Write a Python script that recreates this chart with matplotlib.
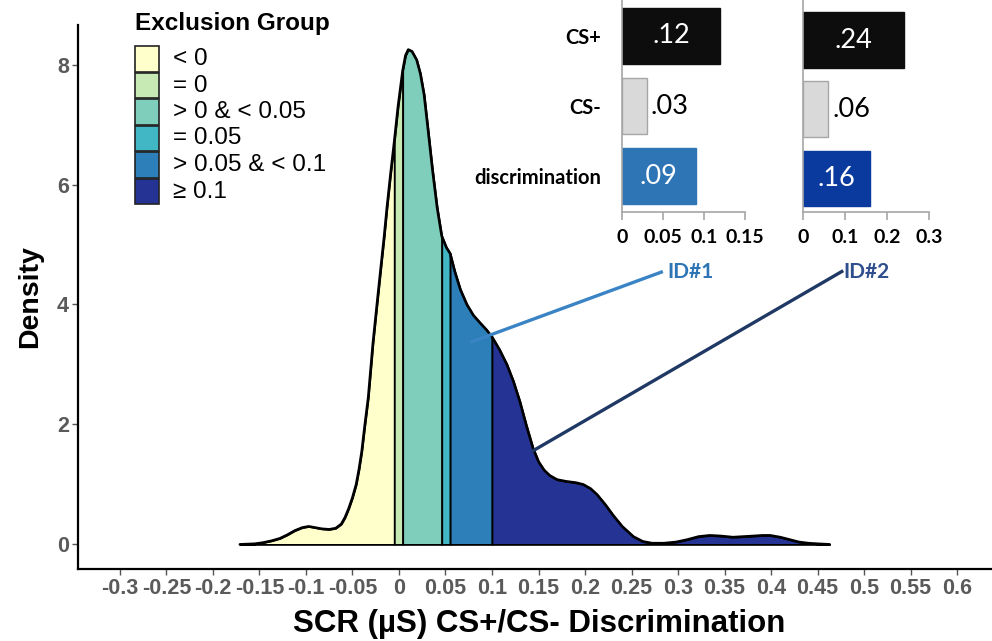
import numpy as np
import matplotlib.pyplot as plt
from matplotlib.patches import Rectangle
from matplotlib.transforms import Affine2D

plt.rcParams['font.family'] = 'Liberation Sans'

# kernel density of the CS+/CS- discrimination score
dens_x = [-0.171, -0.155, -0.146, -0.137, -0.128, -0.120, -0.112, -0.104, -0.097, -0.090,
          -0.083, -0.075, -0.068, -0.062, -0.058, -0.054, -0.050, -0.046, -0.043, -0.040,
          -0.037, -0.033, -0.028, -0.024, -0.020, -0.016, -0.013, -0.009, -0.005, -0.001,
          0.004, 0.007, 0.010, 0.014, 0.019, 0.023, 0.027, 0.031, 0.036, 0.041,
          0.046, 0.051, 0.055, 0.060, 0.066, 0.073, 0.080, 0.088, 0.094, 0.100,
          0.108, 0.116, 0.123, 0.130, 0.137, 0.144, 0.150, 0.156, 0.162, 0.170,
          0.180, 0.190, 0.198, 0.206, 0.213, 0.222, 0.230, 0.240, 0.252, 0.262,
          0.272, 0.285, 0.298, 0.310, 0.322, 0.334, 0.346, 0.359, 0.370, 0.381,
          0.391, 0.399, 0.410, 0.420, 0.430, 0.440, 0.450, 0.463]
dens_y = [0.00, 0.01, 0.03, 0.06, 0.10, 0.16, 0.23, 0.28, 0.30, 0.28,
          0.26, 0.25, 0.27, 0.34, 0.45, 0.60, 0.78, 1.00, 1.25, 1.55,
          1.95, 2.45, 3.35, 3.95, 4.54, 5.12, 5.60, 6.18, 6.72, 7.30,
          7.90, 8.15, 8.25, 8.22, 8.08, 7.85, 7.50, 6.95, 6.25, 5.62,
          5.14, 4.95, 4.85, 4.55, 4.25, 4.00, 3.82, 3.68, 3.58, 3.46,
          3.25, 3.00, 2.72, 2.38, 1.98, 1.61, 1.38, 1.24, 1.15, 1.08,
          1.05, 1.03, 1.00, 0.93, 0.83, 0.66, 0.49, 0.30, 0.13, 0.05,
          0.02, 0.02, 0.04, 0.08, 0.13, 0.15, 0.14, 0.12, 0.13, 0.14,
          0.15, 0.15, 0.12, 0.08, 0.04, 0.02, 0.01, 0.00]

# exclusion groups (split points on the x axis)
group_edges = [-0.005, 0.004, 0.046, 0.055, 0.100]
group_labels = ['< 0', '= 0', '> 0 & < 0.05', '= 0.05', '> 0.05 & < 0.1', '\u2265 0.1']
group_colors = ['#ffffcc', '#c7e9b4', '#7fcdbb', '#41b6c4', '#2c7fb8', '#253494']

x_ticks = np.round(np.arange(-0.3, 0.601, 0.05), 2)
y_ticks = [0, 2, 4, 6, 8]

# single-subject SCR (two example participants)
bar_cats = ['CS+', 'CS-', 'discrimination']
id1_vals = [0.12, 0.03, 0.09]
id2_vals = [0.24, 0.06, 0.16]
id1_ticks = [0, 0.05, 0.1, 0.15]
id2_ticks = [0, 0.1, 0.2, 0.3]


def tick_str(v):
    if abs(v) < 1e-9:
        v = 0.0
    s = ('%.2f' % v).rstrip('0').rstrip('.')
    return s


W, H = 992, 641


def box(l, t, r, b):
    return [l/W, 1-b/H, (r-l)/W, (b-t)/H]


fig = plt.figure(figsize=(W/100, H/100), dpi=100)
pix = Affine2D().scale(1.0/W, -1.0/H).translate(0, 1) + fig.transFigure

############################################################
# Density plot
ax = fig.add_axes(box(78, 25, 999, 569))
dx = np.array(dens_x)
dy = np.array(dens_y)
bounds = [dx[0]] + group_edges + [dx[-1]]
for i in range(len(group_colors)):
    m = (dx >= bounds[i] - 1e-9) & (dx <= bounds[i+1] + 1e-9)
    ax.fill_between(dx[m], 0, dy[m], facecolor=group_colors[i],
                    edgecolor='black', linewidth=1.3, zorder=2)
ax.plot(dx, dy, color='black', lw=1.9, zorder=3, solid_capstyle='round')

ax.set_xlim(-0.345, 0.645)
ax.set_ylim(-0.41, 8.66)
ax.set_xticks(x_ticks)
ax.set_xticklabels([tick_str(v) for v in x_ticks])
ax.set_yticks(y_ticks)
for s in ['top', 'right']:
    ax.spines[s].set_visible(False)
for s in ['left', 'bottom']:
    ax.spines[s].set_linewidth(1.6)
ax.tick_params(length=4, width=1, color='#555555', pad=2.5)
for lab in ax.get_xticklabels() + ax.get_yticklabels():
    lab.set_fontweight('bold')
    lab.set_color('#5a5a5a')
    lab.set_fontsize(15.5)
ax.set_ylabel('Density', fontsize=20.5, fontweight='bold', labelpad=10)
ax.set_xlabel('SCR (\u00b5S) CS+/CS- Discrimination', fontsize=22.5,
              fontweight='bold')
ax.xaxis.set_label_coords((539-78)/921, -(609-569)/544)

# legend
fig.text(135, 30, 'Exclusion Group', transform=pix, fontsize=17.5,
         fontweight='bold', va='baseline', ha='left')
for i, (lab, col) in enumerate(zip(group_labels, group_colors)):
    top = 46 + i*26.5
    fig.add_artist(Rectangle((135, top), 24, 25.5, transform=pix,
                             facecolor=col, edgecolor='#222222', lw=1.2))
    fig.text(173, top + 13, lab, transform=pix, fontsize=17.5,
             va='center', ha='left')

# pointers to the two participants
ax.plot([0.0785, 0.282], [3.38, 4.54], color='#3a84c6', lw=2.4, zorder=4)
ax.plot([0.144, 0.476], [1.56, 4.55], color='#1f3864', lw=2.4, zorder=4)
ax.text(0.289, 4.55, 'ID#1', color='#2e75b6', fontsize=15, fontweight='bold',
        family='Lato', va='center', ha='left')
ax.text(0.478, 4.55, 'ID#2', color='#2f4f8f', fontsize=15, fontweight='bold',
        family='Lato', va='center', ha='left')


############################################################
# Bar insets
def bar_panel(rect, vals, ticks, colors, ylim, show_cats):
    b = fig.add_axes(rect)
    b.patch.set_alpha(0)
    pos = np.arange(len(vals))
    edges = ['#0d0d0d', '#a6a6a6', colors[2]]
    b.barh(pos, vals, height=0.8, color=colors, edgecolor=edges, lw=1.0)
    xmax = ticks[-1]
    for p, v, c in zip(pos, vals, colors):
        s = ('%.2f' % v)[1:]
        if c == '#d9d9d9':
            b.text(v + xmax*0.035, p, s, color='black', fontsize=19.5,
                   family='Lato', va='center', ha='left')
        else:
            b.text(v/2.0, p, s, color='white', fontsize=19.5,
                   family='Lato', va='center', ha='center')
    b.set_xlim(0, xmax)
    b.set_ylim(*ylim)
    b.set_xticks(ticks)
    b.set_xticklabels([tick_str(t) for t in ticks], family='Lato',
                      fontweight='bold', fontsize=14)
    b.tick_params(axis='x', length=6, width=1.2, color='#a6a6a6', pad=6)
    b.set_yticks(pos)
    if show_cats:
        b.set_yticklabels(bar_cats, family='Lato', fontweight='bold', fontsize=14.5)
    else:
        b.set_yticklabels([])
    b.tick_params(axis='y', length=0, pad=15)
    for s in ['top', 'right']:
        b.spines[s].set_visible(False)
    for s in ['left', 'bottom']:
        b.spines[s].set_color('#a6a6a6')
        b.spines[s].set_linewidth(1.2)
    return b


bar_panel(box(622, 0, 745, 212), id1_vals, id1_ticks,
          ['#0d0d0d', '#d9d9d9', '#2e75b6'], (2.514, -0.514), True)
bar_panel(box(803, 0, 929, 212), id2_vals, id2_ticks,
          ['#0d0d0d', '#d9d9d9', '#0b3a9e'], (2.49, -0.58), False)

fig.savefig('out.png', dpi=100)
